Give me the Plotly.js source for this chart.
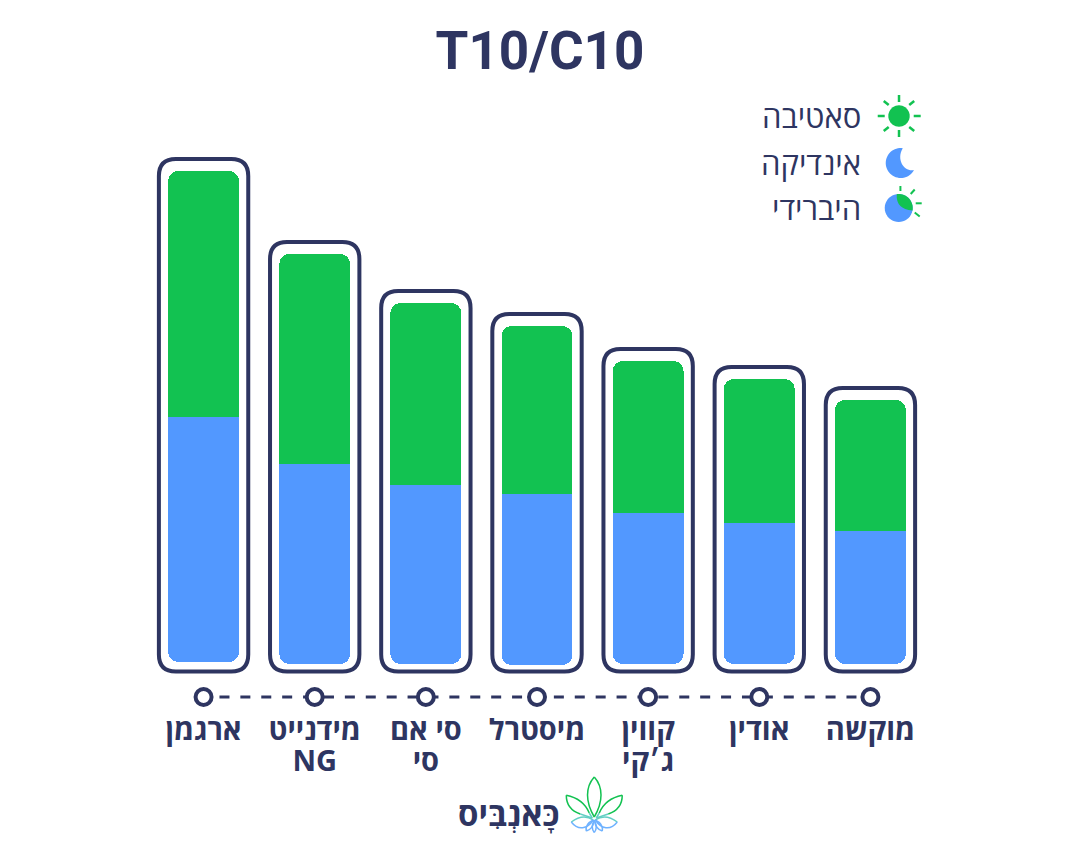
<!DOCTYPE html>
<html><head><meta charset="utf-8">
<script src="https://cdn.plot.ly/plotly-3.0.0.min.js"></script>
<style>html,body{margin:0;padding:0;background:#fff}#c{width:1080px;height:848px}</style>
</head><body><div id="c"></div>
<script>
const strains = [0,1,2,3,4,5,6];
const tickLine1 = ["ארגמן","מידנייט","סי אם","מיסטרל","קווין","אודין","מוקשה"];
const tickLine2 = ["","NG","סי","","ג׳קי","",""];
const blueBase = [2,0,0,-1,0,0,0];
const indica = [245,200,179,171,151,141,133];
const sativa = [246,210,182,168,152,144,131];
const legendLabels = ["סאטיבה","אינדיקה","היברידי"];
const chartTitle = "T10/C10";
const brand = "כָּאנְבִּיס";

const NAVY="#2E3561", GREEN="#12C251", BLUE="#5298FF", TEAL="#63CFC4", SKY="#6FB2FF";
const FONT='"Open Sans","Liberation Sans",sans-serif';
const W=1080,H=848,L=147.9,R=153.7,T=64,B=146;
const px=x=>(x-L)/(W-L-R), py=y=>1-(y-T)/(H-T-B);
const pt=(x,y)=>px(x).toFixed(5)+","+py(y).toFixed(5);
function paperShape(path,o){return Object.assign({type:"path",xref:"paper",yref:"paper",path:path,line:{width:0}},o);}
function stroke(path,color,w){return paperShape(path,{line:{color:color,width:w}});}
function seg(a,b,c,d){return "M"+pt(a,b)+" L"+pt(c,d);}
function arcPts(cx,cy,r,a0,a1){const n=40,o=[];for(let i=0;i<=n;i++){const a=(a0+(a1-a0)*i/n)*Math.PI/180;o.push(pt(cx+r*Math.cos(a),cy+r*Math.sin(a)));}return o;}
function circle(cx,cy,r){const p=arcPts(cx,cy,r,0,360);return "M"+p[0]+" L"+p.slice(1).join(" L")+" Z";}

const junction = strains.map(i=>blueBase[i]+indica[i]);
const tops = strains.map(i=>junction[i]+sativa[i]);
const fw=0.402, frBottom=-7.5, r=17/111.2, ry=17, pad=12;
const frames = strains.map(i=>{
  const x0=i-fw,x1=i+fw,y0=frBottom,y1=tops[i]+pad;
  return {type:"path",xref:"x",yref:"y",layer:"below",line:{color:NAVY,width:4},
    path:`M${x0},${y0+ry} L${x0},${y1-ry} Q${x0},${y1} ${x0+r},${y1} L${x1-r},${y1} Q${x1},${y1} ${x1},${y1-ry} L${x1},${y0+ry} Q${x1},${y0} ${x1-r},${y0} L${x0+r},${y0} Q${x0},${y0} ${x0},${y0+ry} Z`};
});

const icons=[];
// sun
icons.push(paperShape(circle(899.3,116,10.7),{fillcolor:GREEN}));
[[899.3,95,899.3,102],[899.3,130,899.3,137],[878,116,885,116],[914,116,921,116],
 [884,101,889,105],[909.5,105,914.5,101],[884,131,889,127],[909.5,127,914.5,131]]
 .forEach(s=>icons.push(stroke(seg(...s),GREEN,2.5)));
// moon
{const p=arcPts(901,163,15,-82,-332);
 icons.push(paperShape("M"+p[0]+" L"+p.slice(1).join(" L")+` C${pt(905,172)} ${pt(896,160)} ${p[0]} Z`,{fillcolor:BLUE}));}
// hybrid
icons.push(paperShape(circle(899,208,14),{fillcolor:BLUE}));
{const p=arcPts(899,208,14,-98,10);
 icons.push(paperShape("M"+p[0]+" L"+p.slice(1).join(" L")+` Q${pt(896,209)} ${p[0]} Z`,{fillcolor:GREEN}));}
[[900.7,186,900.7,191],[911,194,915,189.5],[916,203.3,922,203.3],[915,212.5,920,216.5]]
 .forEach(s=>icons.push(stroke(seg(...s),GREEN,2)));
// logo leaves
const leaf=(d,c,w)=>stroke(d,c,w||1.5);
const cx=594.4;
icons.push(leaf(`M${pt(cx,777)} C${pt(cx-9,787)} ${pt(cx-9,802)} ${pt(cx,817)}`,GREEN));
icons.push(leaf(`M${pt(cx,777)} C${pt(cx+9,787)} ${pt(cx+9,802)} ${pt(cx,817)}`,GREEN));
[[-1],[1]].forEach(([s])=>{
  icons.push(leaf(`M${pt(cx+s*28,795.3)} C${pt(cx+s*28,804)} ${pt(cx+s*23,811)} ${pt(cx+s*14,814)}`,GREEN));
  icons.push(leaf(`M${pt(cx+s*14,814)} Q${pt(cx+s*8,816)} ${pt(cx+s*2,818)}`,TEAL));
  icons.push(leaf(`M${pt(cx+s*28,795.3)} C${pt(cx+s*14,798)} ${pt(cx+s*8,806)} ${pt(cx+s*5,813)}`,GREEN));
  icons.push(leaf(`M${pt(cx+s*5,813)} L${pt(cx+s*2,818)}`,TEAL));
  icons.push(leaf(`M${pt(cx+s*23,822)} C${pt(cx+s*15,816)} ${pt(cx+s*7,816)} ${pt(cx+s*1,820)}`,TEAL));
  icons.push(leaf(`M${pt(cx+s*23,822)} C${pt(cx+s*16,831)} ${pt(cx+s*7,829)} ${pt(cx+s*1,820)}`,SKY));
  icons.push(leaf(`M${pt(cx+s*8,831)} C${pt(cx+s*9,826)} ${pt(cx+s*5,822)} ${pt(cx+s*1,820)}`,SKY));
  icons.push(leaf(`M${pt(cx+s*8,831)} C${pt(cx+s*3,830)} ${pt(cx+s*1,826)} ${pt(cx,820)}`,SKY));
  icons.push(leaf(`M${pt(cx,832.5)} C${pt(cx+s*3,829)} ${pt(cx+s*2,824)} ${pt(cx,820)}`,SKY));
});

const ann=(text,x,y,size,weight,anchor)=>({text:text,xref:"paper",yref:"paper",x:px(x),y:py(y),showarrow:false,
  xanchor:anchor||"right",yanchor:"middle",font:{family:FONT,size:size,weight:weight,color:NAVY}});

let dash="5px,10.9px"; for(let i=0;i<32;i++) dash+=",10px,10.9px";

const traces=[
 // rounded body: blue from the bottom, running on under the green
 {type:"bar",name:"אינדיקה",x:strains,y:strains.map(i=>indica[i]+sativa[i]/2),base:blueBase,width:0.638,
  marker:{color:BLUE,cornerradius:10,line:{width:0}},hoverinfo:"skip"},
 // stack on the overlay axis: clear spacer up to the junction, then the green with its top rounded
 {type:"bar",x:strains,y:junction,yaxis:"y2",width:0.638,marker:{color:"rgba(0,0,0,0)",line:{width:0}},hoverinfo:"skip"},
 {type:"bar",name:"סאטיבה",x:strains,y:sativa,yaxis:"y2",width:0.638,
  marker:{color:GREEN,cornerradius:10,line:{width:0}},hoverinfo:"skip"},
 {type:"scatter",mode:"lines+markers",x:strains,y:strains.map(()=>-33),xaxis:"x2",cliponaxis:false,
  line:{color:NAVY,width:3,dash:dash},
  marker:{size:16,color:"#fff",line:{color:NAVY,width:4}},hoverinfo:"skip"}
];
const tickfont={family:FONT,size:29,weight:700,color:NAVY};
const layout={
 width:W,height:H,paper_bgcolor:"#fff",plot_bgcolor:"rgba(0,0,0,0)",showlegend:false,barmode:"stack",
 margin:{l:L,r:R,t:T,b:B,pad:0},
 font:{family:FONT,color:NAVY},
 title:{text:chartTitle,x:0.5,xanchor:"center",xref:"container",y:1-50/H,yanchor:"middle",pad:{t:0,b:0},
   font:{family:'Roboto,"Open Sans",sans-serif',size:53,weight:700,color:NAVY}},
 xaxis:{range:[-0.5,6.5],tickmode:"array",tickvals:strains,ticktext:tickLine1,tickangle:0,showgrid:false,zeroline:false,showline:false,
   ticks:"outside",ticklen:2,tickcolor:"rgba(0,0,0,0)",tickfont:tickfont,fixedrange:true},
 xaxis2:{range:[-0.5,6.5],overlaying:"x",side:"bottom",anchor:"y",tickmode:"array",tickvals:strains,ticktext:tickLine2,tickangle:0,
   showgrid:false,zeroline:false,showline:false,ticks:"outside",ticklen:33,tickcolor:"rgba(0,0,0,0)",tickfont:tickfont,fixedrange:true},
 yaxis:{range:[-38,600],showticklabels:false,showgrid:false,zeroline:false,showline:false,ticks:"",fixedrange:true},
 yaxis2:{range:[-38,600],overlaying:"y",showticklabels:false,showgrid:false,zeroline:false,showline:false,ticks:"",fixedrange:true},
 shapes:frames.concat(icons),
 annotations:[ann(legendLabels[0],863,116,31,400),ann(legendLabels[1],863,163,31,400),ann(legendLabels[2],863,208,31,400),
   ann(brand,562,813,33,700)]
};
Plotly.newPlot("c",traces,layout,{displayModeBar:false,staticPlot:true});
</script></body></html>
